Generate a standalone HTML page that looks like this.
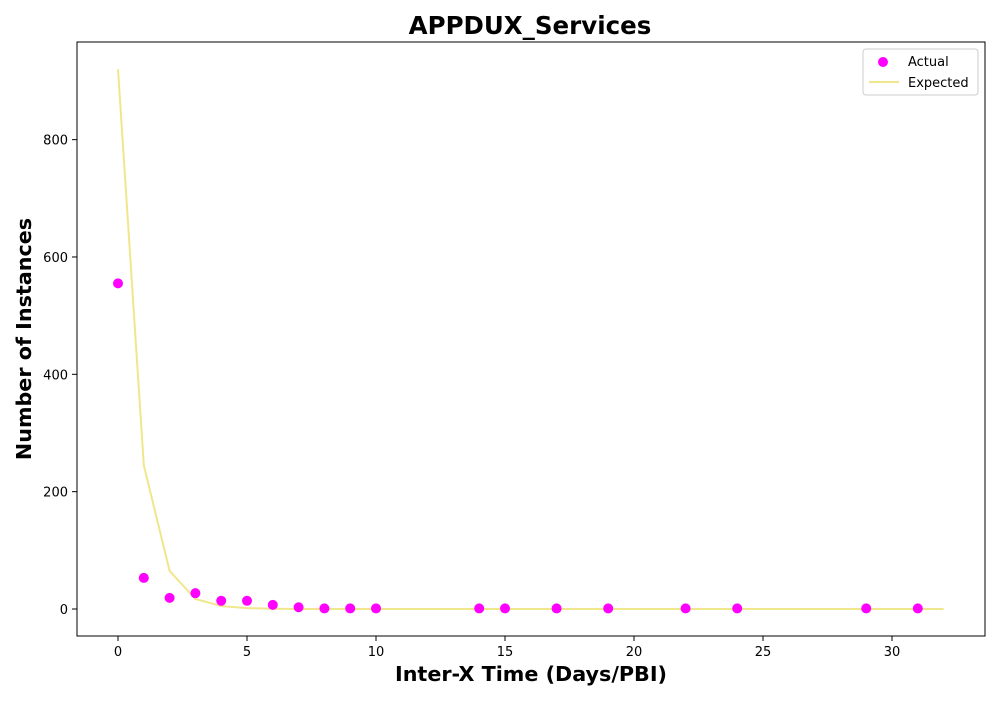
<!DOCTYPE html>
<html><head><meta charset="utf-8"><style>
body{margin:0;background:#fff;font-family:"DejaVu Sans","Liberation Sans",sans-serif}
</style></head><body>
<svg width="1000" height="700" xmlns="http://www.w3.org/2000/svg" id="chart" font-family="DejaVu Sans, Liberation Sans, sans-serif">
<rect width="1000" height="700" fill="#fff"/>
<text x="530" y="34" text-anchor="middle" font-size="24.5" font-weight="bold">APPDUX_Services</text>
<text x="531" y="681" text-anchor="middle" font-size="20.7" font-weight="bold">Inter-X Time (Days/PBI)</text>
<text transform="translate(31,339) rotate(-90)" text-anchor="middle" font-size="20.7" font-weight="bold">Number of Instances</text>
<g id="ticks"></g>
<g id="marks"></g>
<rect x="77" y="42" width="908" height="594" fill="none" stroke="#000" stroke-width="1"/>
<g>
<rect x="863" y="49" width="115" height="46" rx="3" fill="#fff" stroke="#ccc"/>
<circle cx="883" cy="62" r="5" fill="#ff00ff"/>
<text x="908" y="66" font-size="13">Actual</text>
<line x1="869" y1="82" x2="899" y2="82" stroke="#f0e68c" stroke-width="2"/>
<text x="908" y="87" font-size="13">Expected</text>
</g>
</svg>
<script>
const xTicks=[0,5,10,15,20,25,30];
const yTicks=[0,200,400,600,800];
const actualX=[0,1,2,3,4,5,6,7,8,9,10,14,15,17,19,22,24,29,31];
const actualY=[555,53,19,27,14,14,7,3,1,1,1,1,1,1,1,1,1,1,1];
const expectedX=[0,1,2,3,4,5,6,7,8,9,10,11,12,13,14,15,16,17,18,19,20,21,22,23,24,25,26,27,28,29,30,31,32];
const expectedY=[920,245,65,17,5,1.5,0.4,0.1,0,0,0,0,0,0,0,0,0,0,0,0,0,0,0,0,0,0,0,0,0,0,0,0,0];
const NS="http://www.w3.org/2000/svg";
const sx=v=>118+v*25.8;
const sy=v=>609-v*0.5867;
const tg=document.getElementById('ticks'), mg=document.getElementById('marks');
function mk(t,a,p){const e=document.createElementNS(NS,t);for(const k in a)e.setAttribute(k,a[k]);p.appendChild(e);return e;}
xTicks.forEach(v=>{
 const l=mk('line',{x1:sx(v),x2:sx(v),y1:636,y2:641,stroke:'#000'},tg);
 
 
 const t=mk('text',{x:sx(v),y:656,'text-anchor':'middle','font-size':13},tg);t.textContent=v;
 
 
});
yTicks.forEach(v=>{
 const l=mk('line',{x1:72,x2:77,y1:sy(v),y2:sy(v),stroke:'#000'},tg);
 
 
 const t=mk('text',{x:68,y:sy(v)+5,'text-anchor':'end','font-size':13},tg);t.textContent=v;
 
 
});
const pl=mk('polyline',{points:expectedX.map((x,i)=>sx(x)+','+sy(expectedY[i])).join(' '),fill:'none',stroke:'#f0e68c','stroke-width':2},mg);


actualX.forEach((x,i)=>{
 const c=mk('circle',{cx:sx(x),cy:sy(actualY[i]),r:5,fill:'#ff00ff'},mg);
 
 
});
</script>
</body></html>
